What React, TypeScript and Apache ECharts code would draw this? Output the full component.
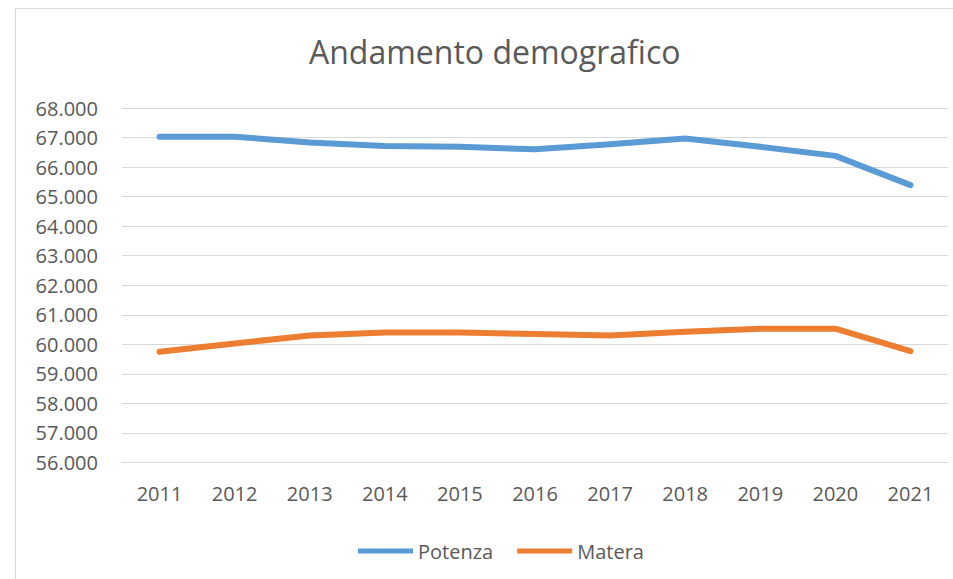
import React, { useEffect, useRef } from "react";
import * as echarts from "echarts";

const years = ["2011", "2012", "2013", "2014", "2015", "2016", "2017", "2018", "2019", "2020", "2021"];
const potenza = [67030, 67030, 66830, 66710, 66690, 66600, 66770, 66970, 66690, 66380, 65390];
const matera = [59750, 60030, 60300, 60400, 60400, 60350, 60300, 60430, 60530, 60530, 59770];
const seriesNames = ["Potenza", "Matera"];
const colors = ["#5B9BD5", "#ED7D31"];
const titleText = "Andamento demografico";

const fmt = (v: number) => {
  const s = String(Math.round(v));
  return s.replace(/\B(?=(\d{3})+(?!\d))/g, ".");
};

export default function App() {
  const ref = useRef<HTMLDivElement>(null);
  useEffect(() => {
    if (!ref.current) return;
    const chart = echarts.init(ref.current, null, { renderer: "svg" });
    const font = "'Open Sans', 'Noto Sans', sans-serif";
    chart.setOption({
      animation: false,
      backgroundColor: "#ffffff",
      textStyle: { fontFamily: font },
      title: {
        text: titleText,
        left: 304,
        top: 30,
        textStyle: { fontFamily: font, fontSize: 32, fontWeight: "normal", color: "#595959" },
      },
      graphic: [
        {
          type: "rect",
          shape: { x: 15.5, y: 8.5, width: 980, height: 600 },
          style: { fill: "none", stroke: "#D9D9D9", lineWidth: 1 },
          silent: true,
        },
      ],
      legend: {
        data: seriesNames,
        left: 353,
        top: 536,
        icon: "rect",
        itemWidth: 55,
        itemHeight: 5,
        itemGap: 24,
        textStyle: { fontFamily: font, fontSize: 20, color: "#595959" },
      },
      grid: { left: 122, right: 5, top: 108, bottom: 116.5, containLabel: false },
      xAxis: {
        type: "category",
        data: years,
        boundaryGap: true,
        axisLine: { show: true, lineStyle: { color: "#D9D9D9", width: 1 } },
        axisTick: { show: false },
        axisLabel: { color: "#595959", fontSize: 20, fontFamily: font, margin: 21 },
      },
      yAxis: {
        type: "value",
        min: 56000,
        max: 68000,
        interval: 1000,
        axisLine: { show: false },
        axisTick: { show: false },
        splitLine: { lineStyle: { color: "#D9D9D9", width: 1 } },
        axisLabel: { color: "#595959", fontSize: 20, fontFamily: font, margin: 24, formatter: fmt },
      },
      series: [
        {
          name: seriesNames[0],
          type: "line",
          data: potenza,
          showSymbol: false,
          symbol: "none",
          lineStyle: { color: colors[0], width: 6, cap: "round", join: "round" },
          itemStyle: { color: colors[0] },
        },
        {
          name: seriesNames[1],
          type: "line",
          data: matera,
          showSymbol: false,
          symbol: "none",
          lineStyle: { color: colors[1], width: 6, cap: "round", join: "round" },
          itemStyle: { color: colors[1] },
        },
      ],
    });
    return () => chart.dispose();
  }, []);
  return (
    <div
      ref={ref}
      style={{ position: "absolute", left: 0, top: 0, width: 953, height: 579 }}
    />
  );
}
